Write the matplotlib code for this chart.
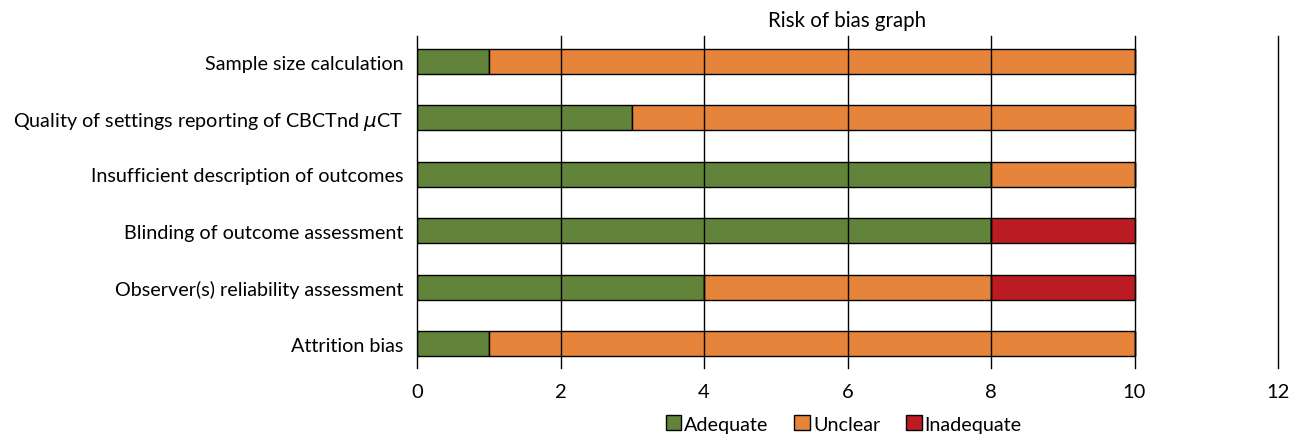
import matplotlib

matplotlib.use("Agg")
import matplotlib.pyplot as plt
from matplotlib.patches import Patch

plt.rcParams["font.family"] = ["Lato", "DejaVu Sans"]
plt.rcParams["mathtext.fontset"] = "dejavusans"

domains = [
    "Sample size calculation",
    "Quality of settings reporting of CBCTnd $\\mu$CT",
    "Insufficient description of outcomes",
    "Blinding of outcome assessment",
    "Observer(s) reliability assessment",
    "Attrition bias",
]
adequate = [1, 3, 8, 8, 4, 1]
unclear = [9, 7, 2, 0, 4, 9]
inadequate = [0, 0, 0, 2, 2, 0]

categories = ["Adequate", "Unclear", "Inadequate"]
colors = ["#62833a", "#e5843a", "#bb1c24"]

fig = plt.figure(figsize=(12.98, 4.39), dpi=100)
ax = fig.add_axes([0.3213, 0.1595, 0.6633, 0.7562])

ypos = list(range(len(domains)))
left = [0] * len(domains)
for vals, color in zip([adequate, unclear, inadequate], colors):
    ax.barh(ypos, vals, left=left, height=0.443, color=color,
            edgecolor="black", linewidth=1.0, zorder=2)
    left = [l + v for l, v in zip(left, vals)]

ax.set_xlim(0, 12)
ax.set_ylim(5.434, -0.452)
ax.set_xticks(range(0, 13, 2))
ax.set_yticks(ypos)
ax.set_yticklabels(domains, fontsize=14.2)
ax.tick_params(axis="x", length=0, pad=11, labelsize=14.5)
ax.tick_params(axis="y", length=0, pad=10)
for s in ax.spines.values():
    s.set_visible(False)
for x in range(0, 13, 2):
    ax.axvline(x, color="black", linewidth=1.0, zorder=3, clip_on=False)

ax.set_title("Risk of bias graph", fontsize=14.8, pad=7)

handles = [Patch(facecolor=c, edgecolor="black", linewidth=1.0) for c in colors]
fig.legend(handles, categories, loc="center", bbox_to_anchor=(0.65, 0.032),
           ncol=3, frameon=False, fontsize=14.2, handlelength=0.8, handleheight=0.8,
           handletextpad=0.15, columnspacing=1.3)

fig.savefig("out.png", dpi=100)
